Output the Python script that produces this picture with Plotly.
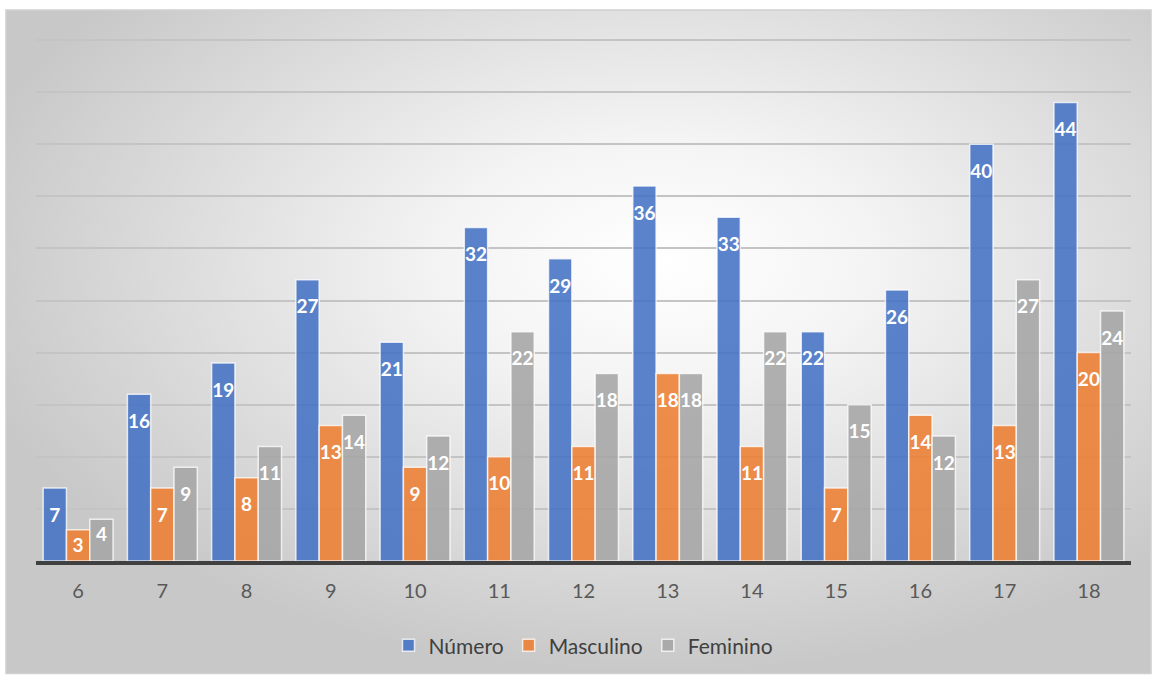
import base64
import plotly.graph_objects as go

# Idades e contagens por sexo
idades = ["6", "7", "8", "9", "10", "11", "12", "13", "14", "15", "16", "17", "18"]
numero = [7, 16, 19, 27, 21, 32, 29, 36, 33, 22, 26, 40, 44]
masculino = [3, 7, 8, 13, 9, 10, 11, 18, 11, 7, 14, 13, 20]
feminino = [4, 9, 11, 14, 12, 22, 18, 18, 22, 15, 12, 27, 24]

series = [
    ("Número", numero, "rgba(68,114,196,0.88)"),
    ("Masculino", masculino, "rgba(237,125,49,0.88)"),
    ("Feminino", feminino, "rgba(165,165,165,0.88)"),
]

W, H = 1157, 678
ML, MR, MT, MB = 36, 26, 39, 115
PW, PH = W - ML - MR, H - MT - MB
YMAX = 50.1

FONT = "Lato, 'Open Sans', sans-serif"
SPACER = "<span style='font-size:6px'>&nbsp;</span><br>"


def labels(vals):
    # short bars keep the label flush with the top; taller ones get extra headroom
    return [(SPACER if v >= 6 else "") + str(v) for v in vals]


fig = go.Figure()
for name, vals, color in series:
    fig.add_trace(go.Bar(
        x=idades, y=vals, name=name,
        marker=dict(color=color, line=dict(color="rgba(255,255,255,0.75)", width=1.5)),
        text=labels(vals),
        textposition="inside", insidetextanchor="end", textangle=0,
        insidetextfont=dict(color="white", size=19, family=FONT, weight="bold"),
        hovertemplate="%{x}: %{y}<extra>" + name + "</extra>",
    ))

# Radial gradient backdrop for the chart area
svg = (
    '<svg xmlns="http://www.w3.org/2000/svg" width="1145" height="666" preserveAspectRatio="none">'
    '<defs><radialGradient id="g" cx="0.57" cy="0.38" r="0.62" gradientUnits="objectBoundingBox">'
    '<stop offset="0" stop-color="#ffffff"/>'
    '<stop offset="0.3" stop-color="#f4f4f4"/>'
    '<stop offset="1" stop-color="#c8c8c8"/>'
    '</radialGradient></defs>'
    '<rect x="0" y="0" width="1145" height="666" fill="url(#g)"/></svg>'
)
src = "data:image/svg+xml;base64," + base64.b64encode(svg.encode()).decode()


def px_x(v):
    return (v - ML) / PW


def px_y(v):
    return (H - MB - v) / PH


box_l, box_r, box_t, box_b = 6, 1151, 10, 676

fig.add_layout_image(dict(
    source=src, xref="paper", yref="paper",
    x=px_x(box_l), y=px_y(box_t),
    sizex=px_x(box_r) - px_x(box_l), sizey=px_y(box_t) - px_y(box_b),
    xanchor="left", yanchor="top", sizing="stretch", layer="below",
))
fig.add_shape(type="rect", xref="paper", yref="paper",
              x0=px_x(box_l), x1=px_x(box_r), y0=px_y(box_b), y1=px_y(box_t),
              line=dict(color="#d0d0d0", width=1.5), fillcolor="rgba(0,0,0,0)", layer="below")

fig.update_layout(
    width=W, height=H,
    margin=dict(l=ML, r=MR, t=MT, b=MB),
    paper_bgcolor="white", plot_bgcolor="rgba(0,0,0,0)",
    barmode="group", bargap=0.17, bargroupgap=0,
    uniformtext=dict(minsize=19, mode="show"),
    font=dict(family=FONT, color="#595959", size=20),
    legend=dict(orientation="h", x=0.5, xanchor="center",
                y=px_y(648), yanchor="middle",
                font=dict(size=21, color="#404040", family=FONT),
                bgcolor="rgba(0,0,0,0)", itemwidth=30, tracegroupgap=0),
    showlegend=True,
)
fig.update_xaxes(
    showline=True, linecolor="#404040", linewidth=4,
    ticks="outside", ticklen=9, tickcolor="rgba(0,0,0,0)",
    tickfont=dict(size=20, color="#595959", family=FONT),
    showgrid=False,
)
fig.update_yaxes(
    range=[0, YMAX], dtick=5, showticklabels=False,
    showgrid=True, gridcolor="#c4c4c4", gridwidth=1.5,
    zeroline=False,
)

fig.write_html("out.html")
